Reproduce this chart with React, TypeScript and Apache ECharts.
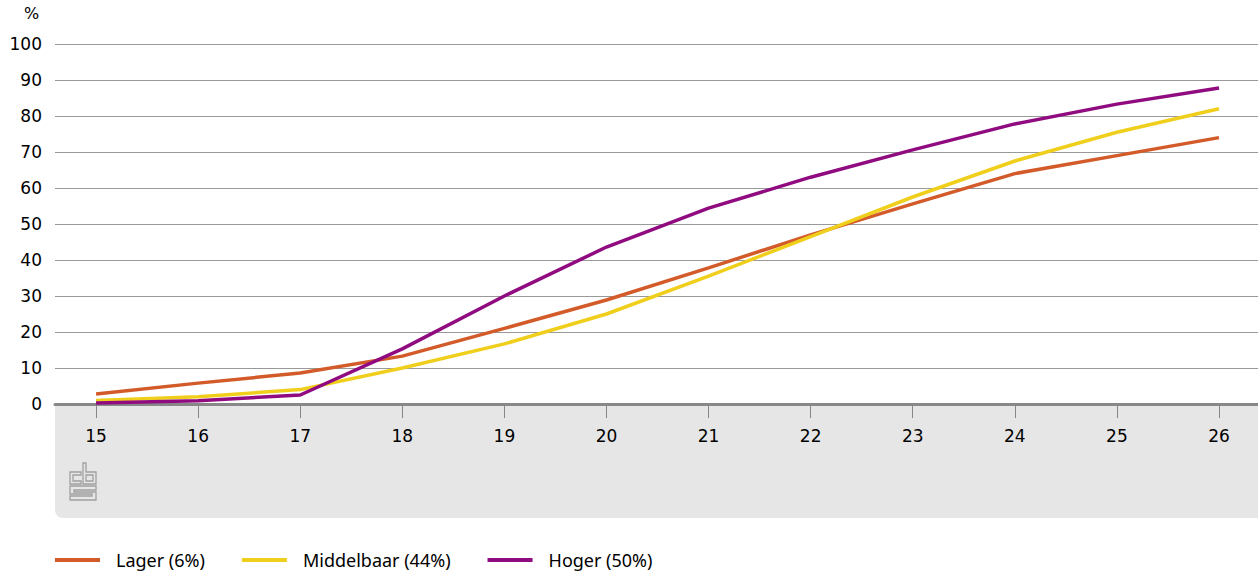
import React, { useEffect, useRef } from "react";
import * as echarts from "echarts";

const ages = [15, 16, 17, 18, 19, 20, 21, 22, 23, 24, 25, 26];
const lager = [2.8, 5.8, 8.6, 13.3, 21, 28.9, 37.8, 47, 55.6, 64, 69, 74];
const middelbaar = [1, 2, 4, 10, 16.7, 25, 35.5, 46.5, 57.5, 67.5, 75.5, 82];
const hoger = [0.3, 0.9, 2.5, 15.3, 30, 43.6, 54.4, 63, 70.6, 77.8, 83.3, 87.8];
const seriesNames = ["Lager (6%)", "Middelbaar (44%)", "Hoger (50%)"];
const colors = ["#d35b2a", "#f0cf1c", "#900b80"];

const logoPath =
  "M0 9 H11 V12 H3 V18 H11 V21 H0 Z M13 0 H16 V9 H26 V21 H13 Z M16 12 V18 H23 V12 Z M0 23 H26 V27 H4 V29 H26 V37 H0 V33 H22 V31 H0 Z";

let registered = false;

export default function App() {
  const ref = useRef<HTMLDivElement>(null);
  useEffect(() => {
    if (!ref.current) return;
    if (!registered) {
      echarts.graphic.registerShape("logo", echarts.graphic.extendPath(logoPath, {}) as any);
      registered = true;
    }
    const chart = echarts.init(ref.current, null, { renderer: "svg" });
    const axisFont = "'DejaVu Sans', sans-serif";
    const legendFont = "'Noto Sans', sans-serif";
    const mk = (arr: number[]) => ages.map((a, i) => [a, arr[i]]);
    chart.setOption({
      animation: false,
      textStyle: { fontFamily: axisFont },
      color: colors,
      grid: { left: 55, right: 0, top: 44, bottom: 170, containLabel: false },
      graphic: [
        {
          type: "rect",
          z: -10,
          shape: { x: 55, y: 405, width: 1203, height: 113, r: [0, 0, 0, 8] },
          style: { fill: "#e6e6e6" },
        },
        {
          type: "text",
          x: 24,
          y: 5,
          style: { text: "%", fontSize: 16, fill: "#000", fontFamily: axisFont },
        },
        {
          type: "logo",
          x: 70,
          y: 463,
          scaleX: 1,
          scaleY: 1,
          style: { fill: "none", stroke: "#a0a0a0", lineWidth: 1.3 },
        },
      ],
      legend: {
        left: 55,
        top: 551,
        padding: 0,
        itemWidth: 45,
        itemHeight: 4,
        itemGap: 37,
        icon: "rect",
        textStyle: { fontSize: 18, color: "#000", fontFamily: legendFont, padding: [0, 0, 10, 11] },
        data: seriesNames,
      },
      xAxis: {
        type: "value",
        min: 14.598,
        max: 26.382,
        axisLine: { show: true, onZero: false, lineStyle: { color: "#888", width: 3 } },
        axisTick: { show: true, length: 14, customValues: ages, lineStyle: { color: "#888", width: 1 } },
        axisLabel: { customValues: ages, fontSize: 17, color: "#000", margin: 23 },
        splitLine: { show: false },
      },
      yAxis: {
        type: "value",
        min: 0,
        max: 100,
        interval: 10,
        axisLine: { show: false },
        axisTick: { show: false },
        axisLabel: { fontSize: 17, color: "#000", margin: 13 },
        splitLine: { lineStyle: { color: "#999", width: 1 } },
      },
      series: [lager, middelbaar, hoger].map((arr, i) => ({
        name: seriesNames[i],
        type: "line",
        data: mk(arr),
        symbol: "none",
        lineStyle: { width: 3.5, color: colors[i] },
        itemStyle: { color: colors[i] },
      })),
    });
    return () => chart.dispose();
  }, []);
  return <div ref={ref} style={{ width: 1258, height: 574, position: "absolute", left: 0, top: 0 }} />;
}
